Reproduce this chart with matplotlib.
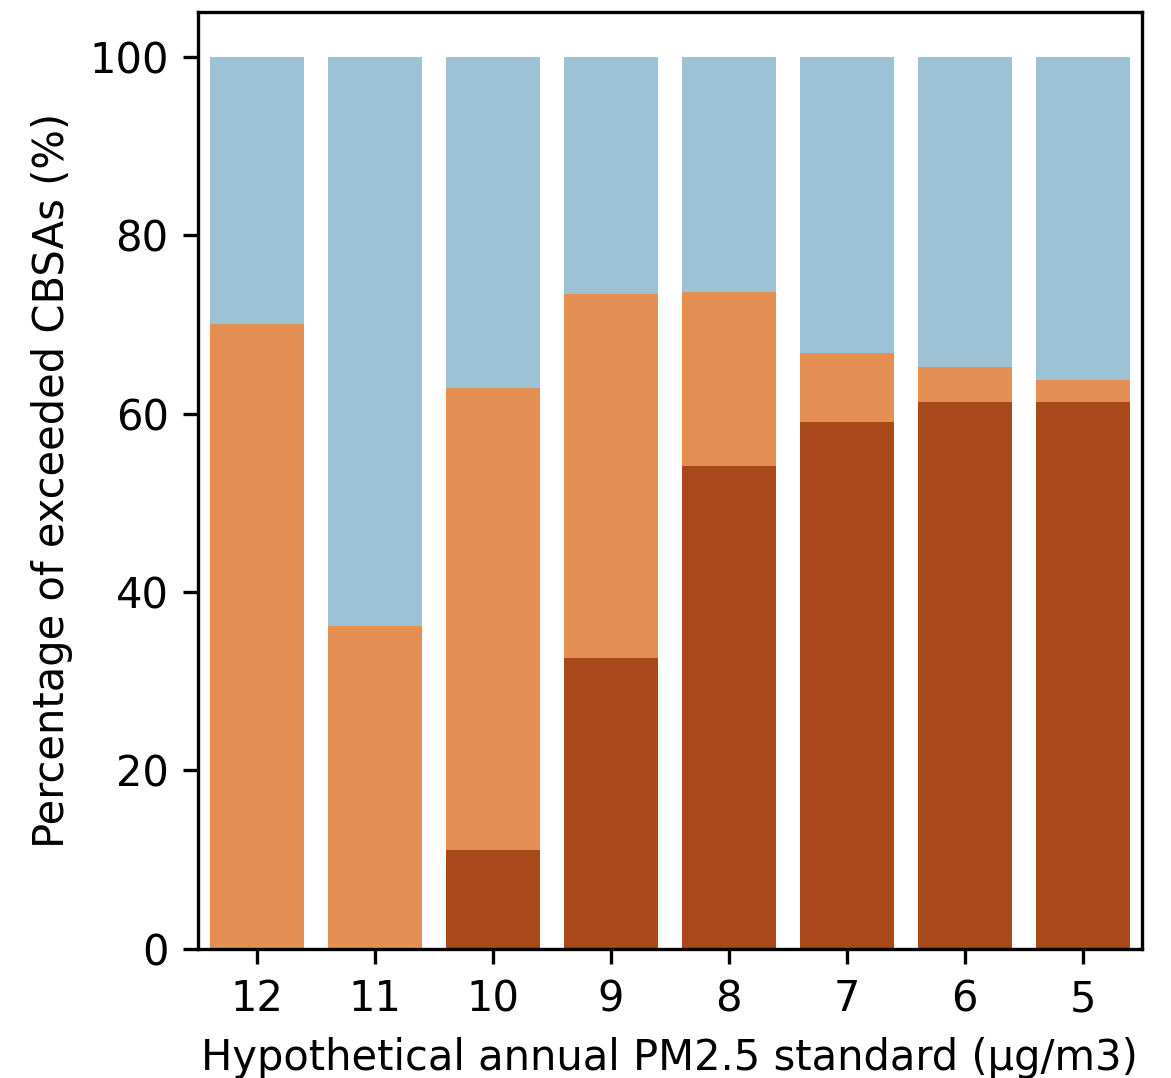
import matplotlib
matplotlib.use("Agg")
import matplotlib.pyplot as plt
import numpy as np

standards = ["12", "11", "10", "9", "8", "7", "6", "5"]
total_pct = [100, 100, 100, 100, 100, 100, 100, 100]
exceed_any_pct = [70.0, 36.2, 62.9, 73.4, 73.6, 66.8, 65.2, 63.8]
exceed_high_pct = [0.0, 0.0, 11.1, 32.65, 54.1, 59.0, 61.3, 61.3]

c_blue = "#9dc1d5"
c_orange = "#e48f54"
c_dark = "#a9481a"

fig = plt.figure(figsize=(1171 / 300, 1078 / 300), dpi=300)
ax = fig.add_axes([0.169, 0.1197, 0.806, 0.8692])

x = np.arange(len(standards))
ax.bar(x, total_pct, width=0.8, color=c_blue)
ax.bar(x, exceed_any_pct, width=0.8, color=c_orange)
ax.bar(x, exceed_high_pct, width=0.8, color=c_dark)

ax.set_xticks(x)
ax.set_xticklabels(standards)
ax.set_xlim(-0.5, len(standards) - 0.5)
ax.set_ylim(0, 105)
ax.set_yticks([0, 20, 40, 60, 80, 100])
ax.set_ylabel("Percentage of exceeded CBSAs (%)")
ax.set_xlabel("Hypothetical annual PM2.5 standard (μg/m3)")

fig.savefig("out.png", dpi=300)
